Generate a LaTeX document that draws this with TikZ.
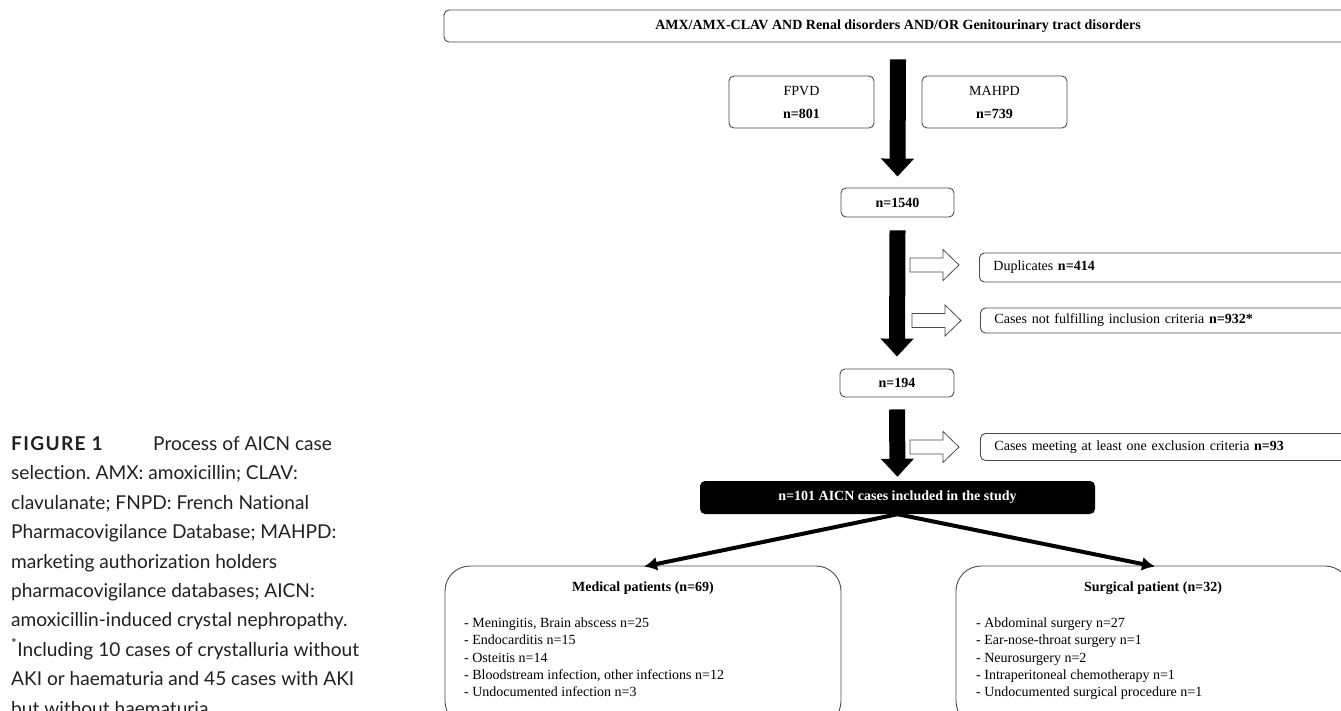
\documentclass[tikz,border=0pt]{standalone}
\usepackage{fontspec}
\setmainfont{Liberation Serif}
\newfontfamily\capfont[Ligatures=CommonOff]{Lato}
\usetikzlibrary{arrows.meta,calc}
\definecolor{boxgray}{RGB}{75,75,75}
\definecolor{capcol}{RGB}{35,31,32}
\newcommand\dfont{\fontsize{14}{17}\selectfont}
\newcommand\cfont{\capfont\fontsize{19.1}{22}\selectfont\frenchspacing}
\begin{document}
\begin{tikzpicture}[x=1pt,y=-1pt,
  every node/.style={font=\dfont, inner sep=0pt},
  sbox/.style={draw=boxgray, line width=0.9pt, rounded corners=5pt},
  wbox/.style={sbox, anchor=west, minimum width=381pt, text width=353pt, align=left, inner xsep=14pt},
  bigbox/.style={draw=boxgray, line width=0.9pt, rounded corners=25pt, minimum height=160pt},
  bigarrow/.style={line width=16pt, -{Triangle[width=32pt,length=18pt]}},
  diag/.style={line width=4pt, -{Latex[length=13pt,width=14pt]}},
  capline/.style={anchor=base west, font=\cfont, text=capcol},
  item/.style={anchor=base west},
  hollow/.pic={\draw[line width=0.8pt, draw=boxgray, fill=white]
     (0,-7)--(33,-7)--(33,-15.5)--(49,0)--(33,15.5)--(33,7)--(0,7)--cycle;}
]
\path[use as bounding box] (0,0) rectangle (1341,710);
\clip (0,0) rectangle (1341,710);

% caption
\node[capline] (capfig) at (11,450.5) {\bfseries\addfontfeature{LetterSpace=7}FIGURE 1};
\node[capline] (cap1) at (153,450.5) {Process of AICN case};
\node[capline] (cap2) at (11,479.9) {selection. AMX: amoxicillin; CLAV:};
\node[capline] (cap3) at (11,509.3) {clavulanate; FNPD: French National};
\node[capline] (cap4) at (11,538.7) {Pharmacovigilance Database; MAHPD:};
\node[capline] (cap5) at (11,568.1) {marketing authorization holders};
\node[capline] (cap6) at (11,597.5) {pharmacovigilance databases; AICN:};
\node[capline] (cap7) at (11,626.9) {amoxicillin-induced crystal nephropathy.};
\node[capline] (cap8) at (11,656.3) {\textsuperscript{*}Including 10 cases of crystalluria without};
\node[capline] (cap9) at (11,685.7) {AKI or haematuria and 45 cases with AKI};
\node[capline] (cap10) at (11,715.1) {but without haematuria.};

% flow boxes
\node[sbox, font=\dfont\bfseries, minimum width=908pt, minimum height=32pt] (top) at (898,26)
  {AMX/AMX-CLAV AND Renal disorders AND/OR Genitourinary tract disorders};
\node[sbox, minimum width=145pt, minimum height=52pt, align=center] (fpvd) at (801.5,102)
  {FPVD\\[6pt]\textbf{n=801}};
\node[sbox, minimum width=145pt, minimum height=52pt, align=center] (mahpd) at (994.5,102)
  {MAHPD\\[6pt]\textbf{n=739}};
\node[sbox, font=\dfont\bfseries, minimum width=113pt, minimum height=29pt] (n1540) at (897.5,202.5) {n=1540};
\node[wbox, minimum height=29pt] (dup) at (979,267.5) {Duplicates \textbf{n=414}};
\node[wbox, minimum height=25pt] (cases) at (980,320.5) {Cases not fulfilling inclusion criteria \textbf{n=932*}};
\node[sbox, font=\dfont\bfseries, minimum width=114pt, minimum height=28pt] (n194) at (897,383) {n=194};
\node[wbox, minimum height=27pt] (excl) at (980,447) {Cases meeting at least one exclusion criteria \textbf{n=93}};
\node[fill=black, rounded corners=5pt, text=white, font=\dfont\bfseries, minimum width=395pt, minimum height=33pt] (incl) at (897.5,497.5)
  {n=101 AICN cases included in the study};

\node[bigbox, minimum width=396pt] (med) at (643,646) {};
\node[bigbox, minimum width=394pt] (surg) at (1153,646) {};

\node[font=\dfont\bfseries] (medt) at (643,588) {Medical patients (n=69)};
\node[item] (m1) at (464,627.5) {- Meningitis, Brain abscess n=25};
\node[item] (m2) at (464,644.8) {- Endocarditis n=15};
\node[item] (m3) at (464,662.1) {- Osteitis n=14};
\node[item] (m4) at (464,679.4) {- Bloodstream infection, other infections n=12};
\node[item] (m5) at (464,696.7) {- Undocumented infection n=3};

\node[font=\dfont\bfseries] (surgt) at (1153,588) {Surgical patient (n=32)};
\node[item] (s1) at (976,627.5) {- Abdominal surgery n=27};
\node[item] (s2) at (976,644.8) {- Ear-nose-throat surgery n=1};
\node[item] (s3) at (976,662.1) {- Neurosurgery n=2};
\node[item] (s4) at (976,679.4) {- Intraperitoneal chemotherapy n=1};
\node[item] (s5) at (976,696.7) {- Undocumented surgical procedure n=1};

% thick arrows
\draw[bigarrow] ($(top.south)+(0,17)$) -- ($(n1540.north)+(0,-11)$);
\draw[bigarrow] ($(n1540.south)+(0,13)$) -- ($(n194.north)+(0,-12)$);
\draw[bigarrow] ($(n194.south)+(0,12)$) -- ($(incl.north)+(0,-4)$);

% hollow side arrows
\pic at ($(dup.west)+(-69,-2.5)$) {hollow};
\pic at ($(cases.west)+(-68,0)$) {hollow};
\pic at ($(excl.west)+(-70,0)$) {hollow};

% diagonal arrows
\draw[diag] (incl.south) -- ($(med.north)+(1,1)$);
\draw[diag] (incl.south) -- ($(surg.north)+(2,1)$);
\end{tikzpicture}
\end{document}
